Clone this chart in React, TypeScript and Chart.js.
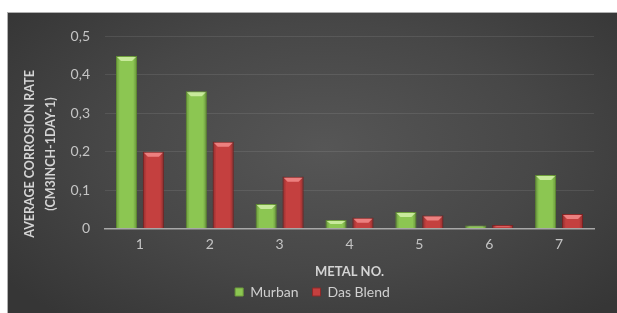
import React, { useEffect, useRef } from "react";
import { Chart, registerables } from "chart.js";

Chart.register(...registerables);

const categories = ["1", "2", "3", "4", "5", "6", "7"];
const murban = [0.449, 0.357, 0.064, 0.022, 0.043, 0.008, 0.139];
const dasBlend = [0.2, 0.226, 0.135, 0.028, 0.034, 0.009, 0.038];
const yTitleLines = ["AVERAGE CORROSION RATE", "(CM3INCH-1DAY-1)"];
const xTitle = "METAL NO.";

const FONT = "Lato, 'Open Sans', 'DejaVu Sans', sans-serif";

const bevelPlugin = {
  id: "bevel",
  afterDatasetsDraw(chart: any) {
    const ctx = chart.ctx;
    chart.data.datasets.forEach((ds: any, i: number) => {
      const meta = chart.getDatasetMeta(i);
      const light = ds.bevelColor;
      const edge = ds.edgeColor;
      meta.data.forEach((bar: any) => {
        const w = bar.width;
        const x0 = bar.x - w / 2;
        const x1 = bar.x + w / 2;
        const top = bar.y;
        const bottom = bar.base;
        const h = bottom - top;
        const b = Math.min(5, h / 2);
        const inset = Math.min(5, w / 3);
        ctx.save();
        const g = ctx.createLinearGradient(x0, 0, x1, 0);
        g.addColorStop(0, edge);
        g.addColorStop(0.18, "rgba(0,0,0,0)");
        g.addColorStop(0.82, "rgba(0,0,0,0)");
        g.addColorStop(1, edge);
        ctx.fillStyle = g;
        ctx.fillRect(x0, top, w, h);
        ctx.beginPath();
        ctx.moveTo(x0 + 1, top + 1);
        ctx.lineTo(x1 - 1, top + 1);
        ctx.lineTo(x1 - inset, top + b);
        ctx.lineTo(x0 + inset, top + b);
        ctx.closePath();
        ctx.fillStyle = light;
        ctx.fill();
        ctx.restore();
      });
    });
  },
};

const yTitlePlugin = {
  id: "yTitle",
  afterDraw(chart: any) {
    const ctx = chart.ctx;
    ctx.save();
    ctx.translate(33, 141);
    ctx.rotate(-Math.PI / 2);
    ctx.font = `bold 12.5px ${FONT}`;
    ctx.fillStyle = "#d4d4d4";
    ctx.textAlign = "center";
    ctx.textBaseline = "middle";
    ctx.fillText(yTitleLines[0], 0, -11);
    ctx.fillText(yTitleLines[1], 0, 10);
    ctx.restore();
  },
};

export default function App() {
  const ref = useRef<HTMLCanvasElement>(null);
  useEffect(() => {
    if (!ref.current) return;
    const chart = new Chart(ref.current, {
      type: "bar",
      data: {
        labels: categories,
        datasets: [
          {
            label: "Murban",
            data: murban,
            backgroundColor: "#8cc652",
            borderColor: "#6e9e3c",
            borderWidth: 1,
            categoryPercentage: 0.77,
            barPercentage: 0.78,
            bevelColor: "rgba(220,245,180,0.75)",
            edgeColor: "rgba(70,110,30,0.35)",
          } as any,
          {
            label: "Das Blend",
            data: dasBlend,
            backgroundColor: "#c4403f",
            borderColor: "#8e2a2a",
            borderWidth: 1,
            categoryPercentage: 0.77,
            barPercentage: 0.78,
            bevelColor: "rgba(250,150,150,0.75)",
            edgeColor: "rgba(90,20,20,0.35)",
          } as any,
        ],
      },
      options: {
        animation: false,
        responsive: false,
        maintainAspectRatio: false,
        layout: { padding: { left: 0, right: 0, top: 19, bottom: 4 } },
        scales: {
          x: {
            afterFit: (scale: any) => {
              scale.height = 42.5;
            },
            grid: { display: false, drawTicks: false },
            border: { display: true, color: "#a8a8a8", width: 1.5 },
            ticks: {
              color: "#c4c4c4",
              font: { family: FONT, size: 14 },
              padding: 7.5,
            },
            title: {
              display: true,
              text: xTitle,
              color: "#d4d4d4",
              font: { family: FONT, size: 13, weight: "bold" },
              padding: { top: 4, bottom: -8.5 },
            },
          },
          y: {
            min: 0,
            max: 0.5,
            afterFit: (scale: any) => {
              scale.width = 97;
            },
            grid: {
              color: "rgba(255,255,255,0.09)",
              drawTicks: false,
              lineWidth: 1,
            },
            border: { display: false },
            ticks: {
              stepSize: 0.1,
              color: "#c4c4c4",
              font: { family: FONT, size: 14 },
              padding: 15,
              callback: (v: any) =>
                v === 0 ? "0" : Number(v).toFixed(1).replace(".", ","),
            },
          },
          yRight: {
            type: "linear",
            position: "right",
            min: 0,
            max: 0.5,
            afterFit: (scale: any) => {
              scale.width = 23;
            },
            grid: { display: false, drawTicks: false },
            border: { display: false },
            ticks: { display: false },
          },
        },
        plugins: {
          legend: {
            position: "bottom",
            labels: {
              color: "#d0d0d0",
              font: { family: FONT, size: 14 },
              boxWidth: 8,
              boxHeight: 8,
              padding: 14,
            },
          },
          tooltip: { enabled: false },
        },
      },
      plugins: [bevelPlugin, yTitlePlugin],
    });
    return () => chart.destroy();
  }, []);

  return (
    <div
      style={{
        position: "absolute",
        left: 7,
        top: 12,
        width: 610,
        height: 301,
        boxSizing: "border-box",
        borderTop: "1px solid #b0b0b0",
        borderLeft: "1px solid #b0b0b0",
        background:
          "radial-gradient(ellipse 65% 75% at 52% 45%, #565656 0%, #474747 55%, #363636 100%)",
      }}
    >
      <canvas
        ref={ref}
        width={609}
        height={300}
        style={{ display: "block", width: 609, height: 300 }}
      />
    </div>
  );
}
